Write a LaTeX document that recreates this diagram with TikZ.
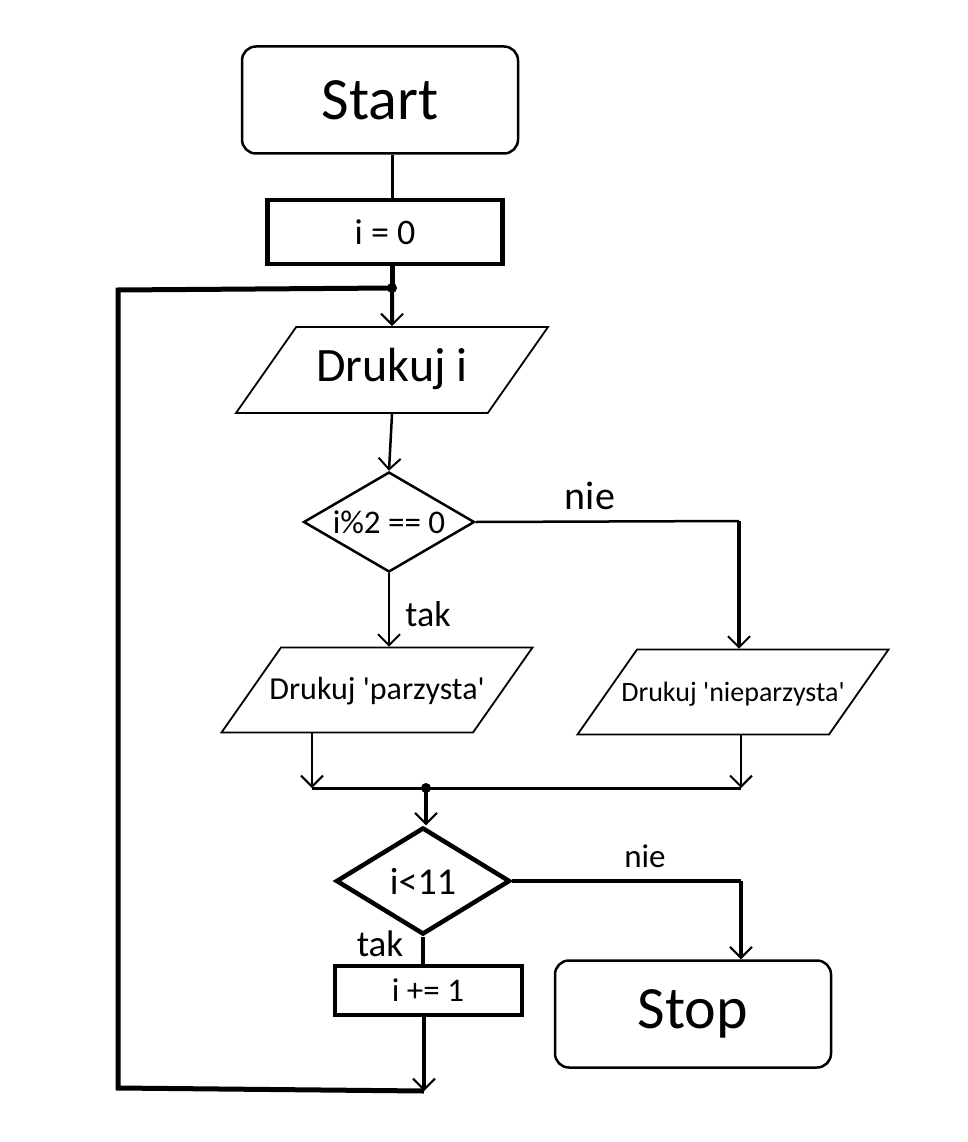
\documentclass[tikz,border=0pt]{standalone}
\usepackage{fontspec}
\setmainfont{Carlito}
\usetikzlibrary{arrows.meta,shapes.geometric}
\def\fs#1{\fontsize{#1}{#1}\selectfont}

\tikzset{
  termbox/.style={draw, line width=2.5pt, rounded corners=14pt, minimum width=276pt, minimum height=107pt, font=\fs{60}},
  procbox/.style={draw, line width=4.5pt, inner sep=0pt},
  iobox/.style={draw, line width=1.8pt, trapezium, trapezium left angle=55, trapezium right angle=125,
    trapezium stretches body, inner xsep=-30pt, inner ysep=0pt, text height=52pt, text depth=33pt,
    minimum width=311pt},
  decbox/.style={draw, diamond, aspect=1.7, inner sep=0pt},
  lbl/.style={font=\fs{37}},
  arr/.style={-{Straight Barb[length=11pt,width=22pt,line width=2pt]}},
}

\begin{document}
\begin{tikzpicture}[x=1pt, y=-1pt]
  %%%%% START %%%%%
  \useasboundingbox (0,0) rectangle (968,1142);

  \node[termbox] (start) at (380,100) {Start};
  \node[procbox, minimum width=235pt, minimum height=64pt, font=\fs{36}] (init) at (385,232) {i = 0};
  \node[iobox, minimum width=312pt, text height=54pt, text depth=32pt, font=\fs{48}] (druk) at (392,370) {Drukuj i};
  \node[decbox, line width=2.5pt, minimum width=171pt, minimum height=100pt, font=\fs{33}] (even) at (389,522) {i\%2 == 0};
  \node[iobox, font=\fs{32}] (par) at (377,690) {Drukuj \textquotesingle parzysta\textquotesingle};
  \node[iobox, font=\fs{28}] (npar) at (733,692) {Drukuj \textquotesingle nieparzysta\textquotesingle};
  \node[decbox, line width=4.5pt, minimum width=174pt, minimum height=107pt, font=\fs{38}] (less) at (423,881) {i<11};
  \node[procbox, line width=4pt, minimum width=187pt, minimum height=49pt, font=\fs{33}] (inc) at (428,990) {i += 1};
  \node[termbox] (stop) at (693,1014) {Stop};

  \node[lbl, font=\fs{40}] (nie1) at (590,496) {nie};
  \node[lbl, font=\fs{36}] (tak1) at (428,614) {tak};
  \node[lbl, font=\fs{33}] (nie2) at (645,856) {nie};
  \node[lbl] (tak2) at (380,944) {tak};

  \coordinate (j1) at (392,288);
  \coordinate (lp) at (118,290);
  \coordinate (lb) at (118,1088);
  \coordinate (kb) at (424,1091);
  \coordinate (kn) at (739,521);
  \coordinate (ml) at (312,788);
  \coordinate (mr) at (741,788);
  \coordinate (j2) at (426,788);
  \coordinate (ks) at (741,881);

  \draw[line width=3pt] (j1 |- start.south) -- (j1 |- init.north);
  \draw[line width=5pt] (j1 |- init.south) -- (j1);
  \draw[arr, line width=4pt] (j1) -- (druk.north);
  \draw[line width=5pt] (j1) -- (lp) -- (lb) -- (kb);
  \fill (j1) circle (5);

  \draw[arr, line width=2.5pt] (druk.south) -- (even.north);
  \draw[line width=2.5pt] (even.east) -- (kn);
  \draw[arr, line width=3.5pt] (kn) -- (kn |- npar.north);
  \draw[arr, line width=2.5pt] (even.south) -- (even.south |- par.north);

  \draw[arr, line width=2.5pt] (ml |- par.south) -- (ml);
  \draw[arr, line width=2.5pt] (mr |- npar.south) -- (mr);
  \draw[line width=3pt] (ml) -- (mr);
  \fill (j2) circle (5);
  \draw[arr, line width=4.5pt] (j2) -- (j2 |- less.north);

  \draw[line width=4pt] (less.east) -- (ks);
  \draw[arr, line width=4pt] (ks) -- (ks |- stop.north);
  \draw[line width=4.5pt] (less.south) -- (less.south |- inc.north);
  \draw[arr, line width=4.5pt] (inc.south -| kb) -- (kb);
  %%%%% END %%%%%
\end{tikzpicture}
\end{document}
